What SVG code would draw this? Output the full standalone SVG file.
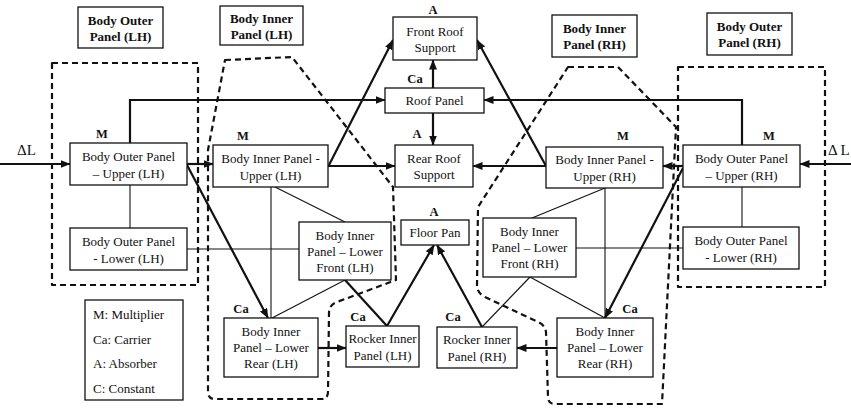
<svg xmlns="http://www.w3.org/2000/svg" width="851" height="408" viewBox="0 0 851 408" font-family="'Liberation Serif', 'Times New Roman', 'DejaVu Serif', serif">
  <style>
    text { font-family: "Liberation Serif", "Times New Roman", "DejaVu Serif", serif; fill: #111; }
    .nt { font-size: 13px; text-anchor: middle; }
    .hd { font-size: 13px; font-weight: bold; text-anchor: middle; }
    .lb { font-size: 12.5px; font-weight: bold; text-anchor: middle; }
    .lg { font-size: 13px; }
    .dl { font-size: 15px; }
    rect.box { fill: #fff; stroke: #111; stroke-width: 1.3; }
    .grp { fill: none; stroke: #111; stroke-width: 2.2; stroke-dasharray: 6 4; stroke-linejoin: round; }
    .k { fill: none; stroke: #111; stroke-width: 2.2; }
    .t { fill: none; stroke: #111; stroke-width: 1.1; }
  </style>
  <defs>
    <marker id="arr" markerUnits="userSpaceOnUse" markerWidth="10" markerHeight="8" refX="9.5" refY="4" orient="auto">
      <path d="M0,0 L10,4 L0,8 Z" fill="#111"/>
    </marker>
  </defs>
  <rect width="851" height="408" fill="#fff"/>

  <!-- dashed group outlines -->
  <g id="groups">
    <rect class="grp" x="52" y="63" width="146" height="222"/>
    <path class="grp" d="M225,60 L292,57 L393,187 L396,280 L337,302 Q329,305 329,313 L328,392 Q328,399 321,399 L215,399 Q208,399 208,392 L208,150 Z"/>
    <path class="grp" d="M568,67 L618,67 L676,127 L662,404 L555,404 Q548,404 548,397 L546,332 Q545,325 538,322 L485,297 Q477,293 477,285 L478,207 Z"/>
    <rect class="grp" x="678" y="67" width="147" height="220"/>
  </g>

  <!-- connectors -->
  <g id="connectors">
    <path class="k" d="M0,164 L70,164" marker-end="url(#arr)"/>
    <path class="k" d="M187,164 L213,164" marker-end="url(#arr)"/>
    <path class="k" d="M130,143 L130,100 L385,100" marker-end="url(#arr)"/>
    <path class="t" d="M130,185 L130,228"/>
    <path class="t" d="M187,249 L299,249"/>
    <path class="k" d="M187,165 L268,318" marker-end="url(#arr)"/>
    <path class="k" d="M329,165 L393,40" marker-end="url(#arr)"/>
    <path class="k" d="M328,166 L395,166" marker-end="url(#arr)"/>
    <path class="t" d="M271,187 L271,318"/>
    <path class="t" d="M275,187 L345,222"/>
    <path class="t" d="M345,280 L272,318"/>
    <path class="k" d="M345,280 L387,326"/>
    <path class="k" d="M387,326 L434,245" marker-end="url(#arr)"/>
    <path class="k" d="M482,327 L437,245" marker-end="url(#arr)"/>
    <path class="k" d="M318,348 L346,348" marker-end="url(#arr)"/>
    <path class="k" d="M557,348 L517,348" marker-end="url(#arr)"/>
    <path class="t" d="M530,277 L482,327"/>
    <path class="t" d="M530,277 L605,318"/>
    <path class="t" d="M605,188 L605,318"/>
    <path class="t" d="M605,188 L532,218"/>
    <path class="k" d="M546,166 L473,166" marker-end="url(#arr)"/>
    <path class="k" d="M546,166 L477,40" marker-end="url(#arr)"/>
    <path class="k" d="M683,166 L663,166" marker-end="url(#arr)"/>
    <path class="k" d="M742,145 L742,100 L484,100" marker-end="url(#arr)"/>
    <path class="t" d="M742,187 L742,227"/>
    <path class="t" d="M683,248 L576,248"/>
    <path class="k" d="M683,168 L605,318" marker-end="url(#arr)"/>
    <path class="k" d="M433,88 L433,60" marker-end="url(#arr)"/>
    <path class="k" d="M433,113 L433,145" marker-end="url(#arr)"/>
    <path class="k" d="M851,164 L800,164" marker-end="url(#arr)"/>
  </g>

  <!-- group headings -->
  <g id="hdr-outer-lh">
    <rect class="box" x="78" y="7" width="85" height="41"/>
    <text class="hd" x="120.5" y="25">Body Outer</text>
    <text class="hd" x="120.5" y="41">Panel (LH)</text>
  </g>
  <g id="hdr-inner-lh">
    <rect class="box" x="220" y="6" width="83" height="39"/>
    <text class="hd" x="261.5" y="23">Body Inner</text>
    <text class="hd" x="261.5" y="39">Panel (LH)</text>
  </g>
  <g id="hdr-inner-rh">
    <rect class="box" x="552" y="15" width="85" height="42"/>
    <text class="hd" x="594.5" y="33">Body Inner</text>
    <text class="hd" x="594.5" y="49">Panel (RH)</text>
  </g>
  <g id="hdr-outer-rh">
    <rect class="box" x="707" y="13" width="85" height="42"/>
    <text class="hd" x="749.5" y="31">Body Outer</text>
    <text class="hd" x="749.5" y="47">Panel (RH)</text>
  </g>

  <!-- input labels -->
  <text class="dl" x="17" y="155">ΔL</text>
  <text class="dl" x="828" y="155">Δ L</text>

  <!-- nodes -->
  <g id="outer-upper-lh">
    <rect class="box" x="70" y="143" width="117" height="42"/>
    <text class="nt" x="128.5" y="160.5">Body Outer Panel</text>
    <text class="nt" x="128.5" y="177.5">– Upper (LH)</text>
    <text class="lb" x="102" y="138">M</text>
  </g>
  <g id="outer-lower-lh">
    <rect class="box" x="70" y="228" width="117" height="42"/>
    <text class="nt" x="128.5" y="245.5">Body Outer Panel</text>
    <text class="nt" x="128.5" y="262.5">- Lower (LH)</text>
  </g>
  <g id="inner-upper-lh">
    <rect class="box" x="213" y="145" width="115" height="42"/>
    <text class="nt" x="270.5" y="162.5">Body Inner Panel -</text>
    <text class="nt" x="270.5" y="179.5">Upper (LH)</text>
    <text class="lb" x="243" y="140">M</text>
  </g>
  <g id="inner-lower-front-lh">
    <rect class="box" x="299" y="222" width="92" height="58"/>
    <text class="nt" x="345" y="239.5">Body Inner</text>
    <text class="nt" x="345" y="255.5">Panel – Lower</text>
    <text class="nt" x="345" y="271.5">Front (LH)</text>
  </g>
  <g id="inner-lower-rear-lh">
    <rect class="box" x="224" y="318" width="94" height="59"/>
    <text class="nt" x="271" y="336">Body Inner</text>
    <text class="nt" x="271" y="352">Panel – Lower</text>
    <text class="nt" x="271" y="368">Rear (LH)</text>
    <text class="lb" x="241" y="313">Ca</text>
  </g>
  <g id="rocker-lh">
    <rect class="box" x="346" y="326" width="73" height="41"/>
    <text class="nt" x="382.5" y="343">Rocker Inner</text>
    <text class="nt" x="382.5" y="359.5">Panel (LH)</text>
    <text class="lb" x="358" y="321">Ca</text>
  </g>
  <g id="floor-pan">
    <rect class="box" x="401" y="220" width="68" height="25"/>
    <text class="nt" x="435" y="237">Floor Pan</text>
    <text class="lb" x="434" y="216">A</text>
  </g>
  <g id="front-roof-support">
    <rect class="box" x="393" y="17" width="84" height="43"/>
    <text class="nt" x="435" y="35.5">Front Roof</text>
    <text class="nt" x="435" y="51.5">Support</text>
    <text class="lb" x="433" y="14">A</text>
  </g>
  <g id="roof-panel">
    <rect class="box" x="385" y="88" width="99" height="25"/>
    <text class="nt" x="434.5" y="105">Roof Panel</text>
    <text class="lb" x="415" y="83">Ca</text>
  </g>
  <g id="rear-roof-support">
    <rect class="box" x="395" y="145" width="78" height="42"/>
    <text class="nt" x="434" y="163">Rear Roof</text>
    <text class="nt" x="434" y="179">Support</text>
    <text class="lb" x="417" y="138">A</text>
  </g>
  <g id="inner-upper-rh">
    <rect class="box" x="546" y="147" width="117" height="41"/>
    <text class="nt" x="604.5" y="164">Body Inner Panel -</text>
    <text class="nt" x="604.5" y="181">Upper (RH)</text>
    <text class="lb" x="623" y="140">M</text>
  </g>
  <g id="inner-lower-front-rh">
    <rect class="box" x="483" y="218" width="93" height="59"/>
    <text class="nt" x="529.5" y="236">Body Inner</text>
    <text class="nt" x="529.5" y="252">Panel – Lower</text>
    <text class="nt" x="529.5" y="268">Front (RH)</text>
  </g>
  <g id="rocker-rh">
    <rect class="box" x="437" y="327" width="80" height="41"/>
    <text class="nt" x="477" y="344">Rocker Inner</text>
    <text class="nt" x="477" y="360.5">Panel (RH)</text>
    <text class="lb" x="453" y="321">Ca</text>
  </g>
  <g id="inner-lower-rear-rh">
    <rect class="box" x="557" y="318" width="96" height="59"/>
    <text class="nt" x="605" y="336">Body Inner</text>
    <text class="nt" x="605" y="352">Panel – Lower</text>
    <text class="nt" x="605" y="368">Rear (RH)</text>
    <text class="lb" x="630" y="313">Ca</text>
  </g>
  <g id="outer-upper-rh">
    <rect class="box" x="683" y="145" width="117" height="42"/>
    <text class="nt" x="741.5" y="162.5">Body Outer Panel</text>
    <text class="nt" x="741.5" y="179.5">– Upper (RH)</text>
    <text class="lb" x="769" y="140">M</text>
  </g>
  <g id="outer-lower-rh">
    <rect class="box" x="683" y="227" width="116" height="42"/>
    <text class="nt" x="741" y="244.5">Body Outer Panel</text>
    <text class="nt" x="741" y="261.5">- Lower (RH)</text>
  </g>

  <!-- legend -->
  <g id="legend">
    <rect class="box" x="85" y="300" width="98" height="100"/>
    <text class="lg" x="93" y="319">M: Multiplier</text>
    <text class="lg" x="93" y="343.5">Ca: Carrier</text>
    <text class="lg" x="93" y="368">A: Absorber</text>
    <text class="lg" x="93" y="393">C: Constant</text>
  </g>
</svg>
